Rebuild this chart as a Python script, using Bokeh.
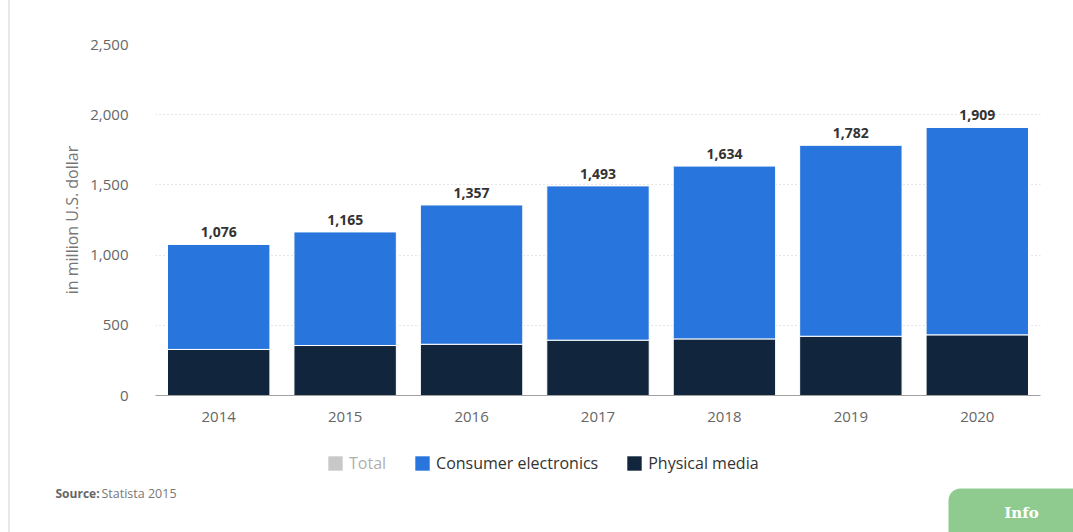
from bokeh.plotting import figure
from bokeh.layouts import column
from bokeh.models import (ColumnDataSource, FactorRange, Range1d, FixedTicker, NumeralTickFormatter,
                          Legend, LegendItem, BoxAnnotation)
from bokeh.core.properties import value
from bokeh.embed import file_html
from bokeh.resources import INLINE

years = ["2014", "2015", "2016", "2017", "2018", "2019", "2020"]
totals = [1076, 1165, 1357, 1493, 1634, 1782, 1909]
physical_media = [328, 356, 365, 394, 403, 422, 432]
consumer_electronics = [t - p for t, p in zip(totals, physical_media)]
y_ticks = [0, 500, 1000, 1500, 2000, 2500]
series_names = ["Total", "Consumer electronics", "Physical media"]

BLUE = "#2876dd"
NAVY = "#11263c"
GREY_TOTAL = "#777777"
FONT = "Open Sans"

src = ColumnDataSource(dict(
    year=years,
    total=totals,
    phys=physical_media,
    cons=consumer_electronics,
    label=[f"{v:,}" for v in totals],
))

p = figure(width=1073, height=440, x_range=FactorRange(*years, range_padding=0),
           y_range=Range1d(0, 2500), output_backend="svg", toolbar_location=None,
           min_border_left=155, min_border_right=33, min_border_top=44, min_border_bottom=45,
           frame_align=False)
p.outline_line_color = None
p.background_fill_color = "white"
p.border_fill_alpha = 0

r_phys, r_cons = p.vbar_stack(["phys", "cons"], x="year", width=0.81, source=src,
                              fill_color=[NAVY, BLUE], line_color="white", line_width=1)

p.text(x="year", y="total", text="label", source=src, text_align="center", text_baseline="bottom",
       y_offset=-7, text_font=value(FONT), text_font_style="bold", text_font_size="14px",
       text_color="#333333")

p.xgrid.grid_line_color = None
p.ygrid.grid_line_color = "#cccccc"
p.ygrid.grid_line_dash = "1 3"
p.ygrid.ticker = FixedTicker(ticks=y_ticks)

p.yaxis.ticker = FixedTicker(ticks=y_ticks)
p.yaxis.formatter = NumeralTickFormatter(format="0,0")
p.yaxis.axis_line_color = None
p.yaxis.major_tick_line_color = None
p.yaxis.minor_tick_line_color = None
p.yaxis.major_label_standoff = 21
p.yaxis.major_label_text_font = FONT
p.yaxis.major_label_text_font_size = "15px"
p.yaxis.major_label_text_color = "#666666"
p.yaxis.axis_label = "in million U.S. dollar"
p.yaxis.axis_label_text_font = FONT
p.yaxis.axis_label_text_font_size = "16px"
p.yaxis.axis_label_text_font_style = "normal"
p.yaxis.axis_label_text_color = "#777777"
p.yaxis.axis_label_standoff = 4

p.xaxis.axis_line_color = "#a0a0a0"
p.xaxis.major_tick_line_color = None
p.xaxis.minor_tick_line_color = None
p.xaxis.major_label_standoff = 10
p.xaxis.major_label_text_font = FONT
p.xaxis.major_label_text_font_size = "15px"
p.xaxis.major_label_text_color = "#666666"

# footer: legend, source, info button (page-pixel coordinates)
f = figure(width=1073, height=92, x_range=Range1d(0, 1073), y_range=Range1d(532, 440),
           output_backend="svg", toolbar_location=None, x_axis_location=None, y_axis_location=None,
           min_border=0, frame_align=False)
f.outline_line_color = None
f.grid.grid_line_color = None
f.background_fill_alpha = 0
f.border_fill_alpha = 0

# legend swatch renderers (kept outside the visible range)
swatch = ColumnDataSource(dict(l=[-50], r=[-40], t=[-50], b=[-40]))
l_total = f.quad(left="l", right="r", top="t", bottom="b", source=swatch,
                 fill_color=GREY_TOTAL, line_color=None, visible=False)
l_cons = f.quad(left="l", right="r", top="t", bottom="b", source=swatch,
                fill_color=BLUE, line_color=None)
l_phys = f.quad(left="l", right="r", top="t", bottom="b", source=swatch,
                fill_color=NAVY, line_color=None)

legend = Legend(items=[
    LegendItem(label=series_names[0], renderers=[l_total]),
    LegendItem(label=series_names[1], renderers=[l_cons]),
    LegendItem(label=series_names[2], renderers=[l_phys]),
], orientation="horizontal", location=(321, 53), click_policy="hide",
    inactive_fill_color="white", inactive_fill_alpha=0.6,
    glyph_width=18, glyph_height=18, label_height=18, label_standoff=5, spacing=27,
    padding=5, margin=0, border_line_alpha=0, background_fill_alpha=0,
    label_text_font=FONT, label_text_font_size="16px", label_text_color="#333333")
f.add_layout(legend)

f.text(x=[55], y=[493], text=["Source:"], text_font=value(FONT), text_font_style="bold",
       text_font_size="12px", text_color="#666666", text_baseline="middle", text_align="left")
f.text(x=[101], y=[493], text=["Statista 2015"], text_font=value(FONT),
       text_font_size="12.5px", text_color="#777777", text_baseline="middle", text_align="left")

f.add_layout(BoxAnnotation(left=948, right=1080, bottom=540, top=488,
                           fill_color="#8fcb8f", fill_alpha=1, line_alpha=0,
                           border_radius=(12, 0, 0, 0)))
f.text(x=[1021], y=[512], text=["Info"], text_font=value("DejaVu Serif"), text_font_style="bold",
       text_font_size="15px", text_color="white", text_baseline="middle", text_align="center",
       level="overlay")

page = column(p, f, spacing=0, styles={
    "background": "linear-gradient(to right, white 8px, #e8e8e8 8px, #e8e8e8 10px, white 10px)"})

open("out.html", "w").write(file_html(page, INLINE))
